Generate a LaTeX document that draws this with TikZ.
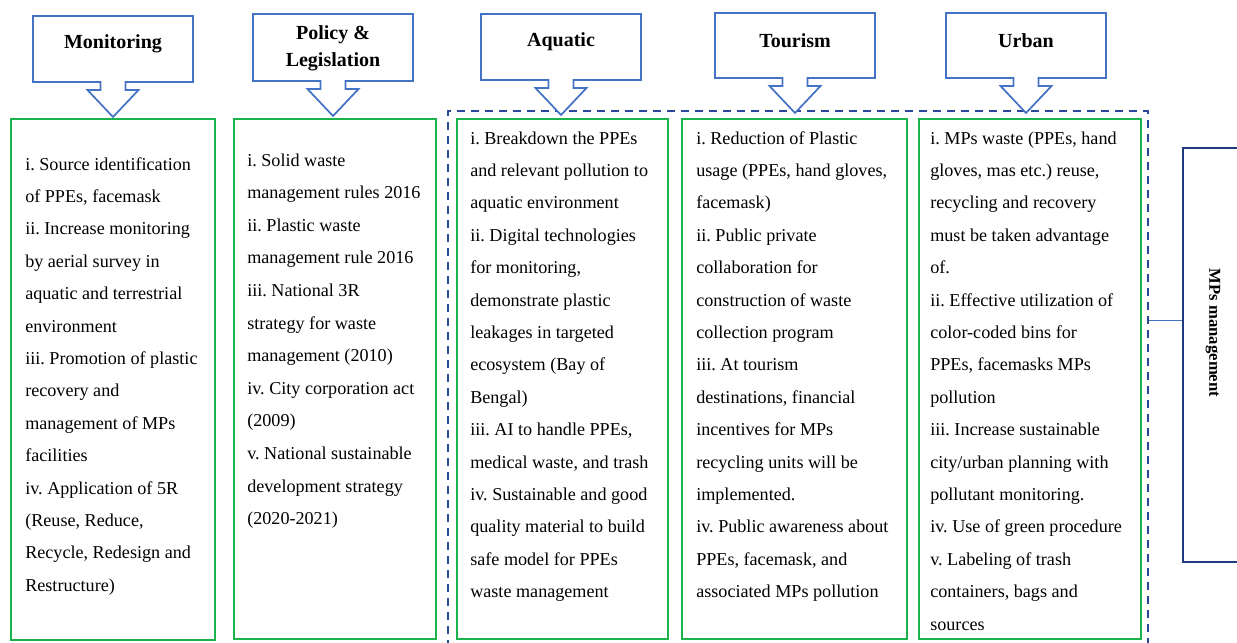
\documentclass[tikz,border=0pt]{standalone}
\usepackage{fontspec}
\setmainfont{Liberation Serif}
\usetikzlibrary{fit}
\frenchspacing

\definecolor{hdrblue}{RGB}{68,114,196}
\definecolor{boxgreen}{RGB}{26,178,74}
\definecolor{dashblue}{RGB}{40,74,150}
\definecolor{mpsblue}{RGB}{32,58,128}

% header callout: name, centre x, top y, bottom y, text shift, text
\newcommand{\hdrcallout}[6]{%
  \draw[hdr] (#2-80,#3) -- (#2+80,#3) -- (#2+80,#4) -- (#2+12.5,#4) -- (#2+12.5,#4+8)
    -- (#2+25.5,#4+8) -- (#2,#4+35) -- (#2-25.5,#4+8) -- (#2-12.5,#4+8)
    -- (#2-12.5,#4) -- (#2-80,#4) -- cycle;
  \node[hdrtext] (#1) at (#2,{(#3+#4)/2+#5}) {#6};}

\begin{document}
\begin{tikzpicture}[
  x=0.75pt,
  y=-0.75pt,
  hdr/.style={draw=hdrblue, line width=1.3pt, fill=white, line join=miter},
  hdrtext/.style={font=\fontsize{15}{20}\selectfont\bfseries, align=center, inner sep=0},
  greenbox/.style={draw=boxgreen, line width=1.4pt, inner sep=0},
  itemtext/.style={anchor=base west, inner sep=0, font=\fontsize{13.6}{16}\selectfont, text=black},
  dashbox/.style={draw=dashblue, line width=1.6pt, dash pattern=on 6pt off 4.5pt, inner sep=0},
  mpsbox/.style={draw=mpsblue, line width=1.3pt, inner sep=0}
]
\clip (0,0) rectangle (1237,642);

% dashed group and the MPs box
\node[dashbox, fit={(448,111) (1148,660)}] (grp) {};
\node[mpsbox, fit={(1183,148) (1270,562)}] (mps) {};
\node[rotate=-90, font=\fontsize{12.5}{14}\selectfont\bfseries] (mpslabel) at (1213,333) {MPs management};
\coordinate (j) at (grp.east |- 0,320);
\draw[hdrblue, line width=0.6pt] (j) -- (j -| mps.west);

% green boxes
\node[greenbox, fit={(11,119) (215,640)}] (b1) {};
\node[greenbox, fit={(234,119) (436,639)}] (b2) {};
\node[greenbox, fit={(457,119) (668,639)}] (b3) {};
\node[greenbox, fit={(682,119) (907,639)}] (b4) {};
\node[greenbox, fit={(919,119) (1141,639)}] (b5) {};

% headers
\hdrcallout{h1}{113}{16}{82}{-5}{Monitoring}
\hdrcallout{h2}{333}{14}{81}{1}{Policy \&\\Legislation}
\hdrcallout{h3}{561}{14}{80}{-5}{Aquatic}
\hdrcallout{h4}{795}{13}{78}{-5}{Tourism}
\hdrcallout{h5}{1026}{13}{78}{-5}{Urban}

% box texts
\foreach \t [count=\i] in {{i. Source identification},{of PPEs, facemask},{ii. Increase monitoring},
  {by aerial survey in},{aquatic and terrestrial},{environment},{iii. Promotion of plastic},
  {recovery and},{management of MPs},{facilities},{iv. Application of 5R},{(Reuse, Reduce,},
  {Recycle, Redesign and},{Restructure)}}
  \node[itemtext] (t1-\i) at (25,{170+(\i-1)*32.4}) {\t};

\foreach \t [count=\i] in {{i. Solid waste},{management rules 2016},{ii. Plastic waste},
  {management rule 2016},{iii. National 3R},{strategy for waste},{management (2010)},
  {iv. City corporation act},{(2009)},{v. National sustainable},{development strategy},
  {(2020-2021)}}
  \node[itemtext] (t2-\i) at (247,{166+(\i-1)*32.6}) {\t};

\foreach \t [count=\i] in {{i. Breakdown the PPEs},{and relevant pollution to},{aquatic environment},
  {ii. Digital technologies},{for monitoring,},{demonstrate plastic},{leakages in targeted},
  {ecosystem (Bay of},{Bengal)},{iii. AI to handle PPEs,},{medical waste, and trash},
  {iv. Sustainable and good},{quality material to build},{safe model for PPEs},{waste management}}
  \node[itemtext] (t3-\i) at (470,{144+(\i-1)*32.4}) {\t};

\foreach \t [count=\i] in {{i. Reduction of Plastic},{usage (PPEs, hand gloves,},{facemask)},
  {ii. Public private},{collaboration for},{construction of waste},{collection program},
  {iii. At tourism},{destinations, financial},{incentives for MPs},{recycling units will be},
  {implemented.},{iv. Public awareness about},{PPEs, facemask, and},{associated MPs pollution}}
  \node[itemtext] (t4-\i) at (696,{144+(\i-1)*32.4}) {\t};

\foreach \t [count=\i] in {{i. MPs waste (PPEs, hand},{gloves, mas etc.) reuse,},{recycling and recovery},
  {must be taken advantage},{of.},{ii. Effective utilization of},{color-coded bins for},
  {PPEs, facemasks MPs},{pollution},{iii. Increase sustainable},{city/urban planning with},
  {pollutant monitoring.},{iv. Use of green procedure},{v. Labeling of trash},
  {containers, bags and},{sources}}
  \node[itemtext] (t5-\i) at (930,{144+(\i-1)*32.4}) {\t};
\end{tikzpicture}
\end{document}
